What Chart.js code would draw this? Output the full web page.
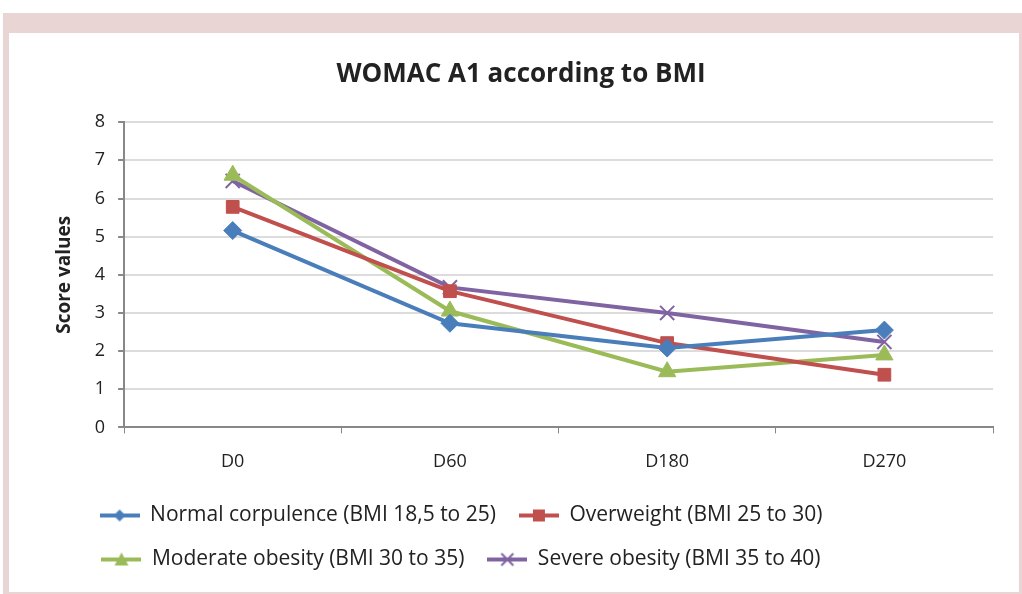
<!DOCTYPE html>
<html>
<head>
<title>WOMAC A1 according to BMI</title>
<script src="https://cdn.jsdelivr.net/npm/chart.js"></script>
<style>
  html, body { margin: 0; padding: 0; }
  body { width: 1022px; height: 594px; background: #fff; position: relative; overflow: hidden; }
  #frame { position: absolute; left: 3px; top: 13px; width: 1019px; height: 581px; background: #e9d6d4; }
  #box { position: absolute; left: 9px; top: 33px; width: 1010px; height: 559px; background: #fff; }
</style>
</head>
<body>
<div id="frame"></div>
<div id="box"><canvas id="myChart" width="1010" height="559"></canvas></div>
<script>
// data
const days = ['D0', 'D60', 'D180', 'D270'];
const normal = [5.16, 2.73, 2.08, 2.55];
const overweight = [5.78, 3.57, 2.21, 1.38];
const moderate = [6.61, 3.05, 1.46, 1.90];
const severe = [6.46, 3.67, 3.00, 2.24];
const yTicks = [0, 1, 2, 3, 4, 5, 6, 7, 8];

const BLUE = '#4a7ebb', RED = '#c0504d', GREEN = '#9bbb59', PURPLE = '#8064a2';
const FONT = "'Open Sans', 'Liberation Sans', sans-serif";

// small legend picture: line with the marker in the middle
function legendIcon(color, style) {
    const c = document.createElement('canvas');
    c.width = 40; c.height = 16;
    const g = c.getContext('2d');
    g.strokeStyle = color; g.fillStyle = color; g.lineWidth = 4;
    g.beginPath(); g.moveTo(0, 8); g.lineTo(40, 8); g.stroke();
    g.lineWidth = 2;
    if (style === 'rectRot') {
        g.beginPath(); g.moveTo(20, 2); g.lineTo(26, 8); g.lineTo(20, 14); g.lineTo(14, 8); g.closePath(); g.fill();
    } else if (style === 'rect') {
        g.fillRect(14, 2, 12, 12);
    } else if (style === 'triangle') {
        g.beginPath(); g.moveTo(20, 1); g.lineTo(27, 14); g.lineTo(13, 14); g.closePath(); g.fill();
    } else {
        g.beginPath(); g.moveTo(14, 2); g.lineTo(26, 14); g.moveTo(26, 2); g.lineTo(14, 14); g.stroke();
    }
    return c;
}

function series(label, data, color, style, radius) {
    return {
        label: label,
        data: data,
        borderColor: color,
        backgroundColor: color,
        borderWidth: 4,
        pointStyle: style,
        pointRadius: radius,
        pointHoverRadius: radius,
        pointBorderWidth: style === 'crossRot' ? 2 : 1,
        pointBorderColor: color,
        pointBackgroundColor: color,
        tension: 0,
        fill: false,
        legendIcon: legendIcon(color, style)
    };
}

// nudge the legend a little to the left, as in the original
const legendShift = {
    id: 'legendShift',
    afterLayout(chart) {
        if (chart.legend) {
            chart.legend.left -= 60;
            chart.legend.right -= 60;
        }
    }
};

const ctx = document.getElementById('myChart').getContext('2d');
new Chart(ctx, {
    type: 'line',
    data: {
        labels: days,
        datasets: [
            series('Normal corpulence (BMI 18,5 to 25)', normal, BLUE, 'rectRot', 9),
            series('Overweight (BMI 25 to 30)', overweight, RED, 'rect', 9),
            series('Moderate obesity (BMI 30 to 35)', moderate, GREEN, 'triangle', 10),
            series('Severe obesity (BMI 35 to 40)', severe, PURPLE, 'crossRot', 10)
        ]
    },
    plugins: [legendShift],
    options: {
        responsive: false,
        animation: false,
        layout: { padding: { left: 40, right: 26, top: 14, bottom: 12 } },
        plugins: {
            title: {
                display: true,
                text: 'WOMAC A1 according to BMI',
                color: '#222',
                font: { family: FONT, size: 26, weight: 'bold' },
                padding: { top: 12, bottom: 32 }
            },
            legend: {
                position: 'bottom',
                labels: {
                    usePointStyle: true,
                    pointStyleWidth: 40,
                    color: '#222',
                    font: { family: FONT, size: 21 },
                    padding: 23,
                    generateLabels: function (chart) {
                        return chart.data.datasets.map((ds, i) => ({
                            text: ds.label,
                            pointStyle: ds.legendIcon,
                            fillStyle: ds.borderColor,
                            strokeStyle: ds.borderColor,
                            lineWidth: 0,
                            hidden: false,
                            datasetIndex: i,
                            fontColor: '#222'
                        }));
                    }
                }
            },
            tooltip: { enabled: false }
        },
        scales: {
            x: {
                offset: true,
                grid: {
                    offset: true,
                    drawOnChartArea: false,
                    drawTicks: true,
                    tickLength: 6,
                    color: '#888'
                },
                border: { color: '#888', width: 2 },
                ticks: { color: '#222', font: { family: FONT, size: 18 }, padding: 18 },
                afterFit: scale => { scale.height -= 9; }
            },
            y: {
                min: 0,
                max: 8,
                afterBuildTicks: axis => { axis.ticks = yTicks.map(v => ({ value: v })); },
                grid: { color: '#dcdcdc', lineWidth: 2, tickLength: 6, tickColor: '#888' },
                border: { color: '#888', width: 2 },
                ticks: { color: '#222', font: { family: FONT, size: 18 }, padding: 13 },
                title: {
                    display: true,
                    text: 'Score values',
                    color: '#222',
                    font: { family: FONT, size: 19, weight: 'bold' },
                    padding: { bottom: 6 }
                }
            }
        }
    }
});
</script>
</body>
</html>
